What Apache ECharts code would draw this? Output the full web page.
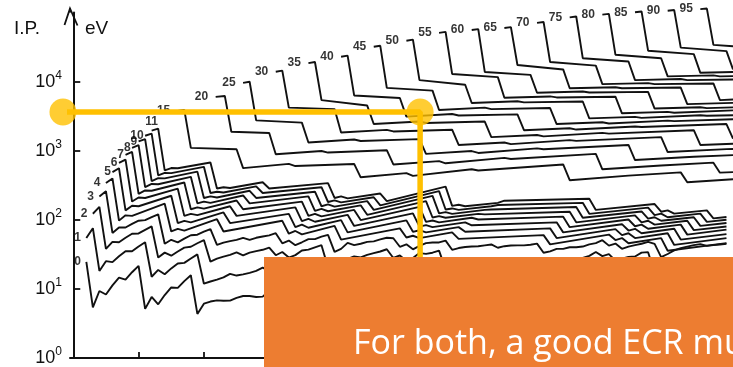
<!DOCTYPE html>
<html><head><meta charset="utf-8">
<script src="https://cdn.jsdelivr.net/npm/echarts@6/dist/echarts.min.js"></script>
<style>html,body{margin:0;padding:0;background:#fff}#c{width:733px;height:367px}</style>
</head><body><div id="c"></div>
<script>
// Charge states (line labels)
const CHARGES = [0,1,2,3,4,5,6,7,8,9,10,11,15,20,25,30,35,40,45,50,55,60,65,70,75,80,85,90,95];
// Y tick values (eV) and X tick values (Z)
const Y_TICKS = [1,10,100,1000,10000];
const X_TICKS = [10,20,30,40,50,60,70,80,90,100];

// Ionization potential [Z, eV] for each charge state
const IP_Q0 = [[2,24.59],[3,5.39],[4,9.32],[5,8.30],[6,11.26],[7,14.53],[8,13.62],[9,17.42],[10,21.56],[11,5.14],[12,7.65],[13,5.99],[14,8.15],[15,10.49],[16,10.36],[17,12.97],[18,15.76],[19,4.34],[20,6.11],[21,6.56],[22,6.83],[23,6.75],[24,6.77],[25,7.43],[26,7.90],[27,7.88],[28,7.64],[29,7.73],[30,9.39],[31,6.00],[32,7.90],[33,9.79],[34,9.75],[35,11.81],[36,14.00],[37,4.18],[38,5.69],[39,6.22],[40,6.63],[41,6.76],[42,7.09],[43,7.28],[44,7.36],[45,7.46],[46,8.34],[47,7.58],[48,8.99],[49,5.79],[50,7.34],[51,8.61],[52,9.01],[53,10.45],[54,12.13],[55,3.89],[56,5.21],[57,5.58],[58,5.54],[59,5.47],[60,5.53],[61,5.58],[62,5.64],[63,5.67],[64,6.15],[65,5.86],[66,5.94],[67,6.02],[68,6.11],[69,6.18],[70,6.25],[71,5.43],[72,6.83],[73,7.55],[74,7.86],[75,7.83],[76,8.44],[77,8.97],[78,8.96],[79,9.23],[80,10.44],[81,6.11],[82,7.42],[83,7.29],[84,8.41],[85,9.32],[86,10.75],[87,4.07],[88,5.28],[89,5.17],[90,6.31],[91,5.89],[92,6.19],[93,6.27],[94,6.03],[95,5.97],[96,5.99],[97,6.20],[98,6.28],[99,6.37],[100,6.50]];
const IP_Q1 = [[2,54.4],[3,75.6],[4,18.2],[5,25.2],[6,24.4],[7,29.6],[8,35.1],[9,35.0],[10,41.0],[11,47.3],[12,15.0],[13,18.8],[14,16.3],[15,19.8],[16,23.3],[17,23.8],[18,27.6],[19,31.6],[20,11.9],[21,12.8],[22,13.6],[23,14.7],[24,16.5],[25,15.6],[26,16.2],[27,17.1],[28,18.2],[29,20.3],[30,18.0],[31,20.5],[32,15.9],[33,18.6],[34,21.2],[35,21.6],[36,24.4],[37,27.3],[38,11.0],[39,12.2],[40,13.1],[41,14.3],[42,16.2],[43,15.3],[44,16.8],[45,18.1],[46,19.4],[47,21.5],[48,16.9],[49,18.9],[50,14.6],[51,16.5],[52,18.6],[53,19.1],[54,21.0],[55,23.2],[56,10.0],[57,11.1],[58,10.8],[59,10.6],[60,10.7],[61,10.9],[62,11.1],[63,11.2],[64,12.1],[65,11.5],[66,11.7],[67,11.8],[68,11.9],[69,12.1],[70,12.2],[71,13.9],[72,14.9],[73,16.2],[74,16.4],[75,16.6],[76,17.0],[77,17.0],[78,18.6],[79,20.5],[80,18.8],[81,20.4],[82,15.0],[83,16.7],[84,19.0],[85,17.9],[86,21.4],[87,22.4],[88,10.1],[89,11.8],[90,11.9],[91,11.9],[92,11.6],[93,11.5],[94,11.5],[95,12.0],[96,12.4],[97,12.3],[98,12.4],[99,12.5],[100,12.6]];
const IP_Q2 = [[3,122.4],[4,153.9],[5,37.9],[6,47.9],[7,47.4],[8,54.9],[9,62.7],[10,63.5],[11,71.6],[12,80.1],[13,28.4],[14,33.5],[15,30.2],[16,34.8],[17,39.6],[18,40.7],[19,45.8],[20,50.9],[21,24.8],[22,27.5],[23,29.3],[24,31.0],[25,33.7],[26,30.6],[27,33.5],[28,35.2],[29,36.8],[30,39.7],[31,30.7],[32,34.2],[33,28.4],[34,30.8],[35,36.0],[36,37.0],[37,40.0],[38,42.9],[39,20.5],[40,23.0],[41,25.0],[42,27.1],[43,29.5],[44,28.5],[45,31.1],[46,32.9],[47,34.8],[48,37.5],[49,28.0],[50,30.5],[51,25.3],[52,28.0],[53,33.0],[54,32.1],[55,33.4],[56,35.8],[57,19.2],[58,20.2],[59,21.6],[60,22.1],[61,22.3],[62,23.4],[63,24.9],[64,20.6],[65,21.9],[66,22.8],[67,22.8],[68,22.7],[69,23.7],[70,25.1],[71,21.0],[72,23.3],[73,22.0],[74,24.0],[75,26.0],[76,25.0],[77,27.0],[78,28.0],[79,30.0],[80,34.2],[81,29.8],[82,31.9],[83,25.6],[84,27.3],[85,29.0],[86,29.4],[87,33.5],[88,34.0],[89,17.4],[90,18.3],[91,19.0],[92,19.8],[93,20.0],[94,21.0],[95,21.8],[96,20.1],[97,21.6],[98,22.3],[99,22.7],[100,23.0]];
const IP_Q3 = [[4,217.7],[5,259.4],[6,64.5],[7,77.5],[8,77.4],[9,87.1],[10,97.1],[11,98.9],[12,109.2],[13,120],[14,45.1],[15,51.4],[16,47.2],[17,53.5],[18,59.8],[19,60.9],[20,67.3],[21,73.5],[22,43.3],[23,46.7],[24,49.2],[25,51.2],[26,54.9],[27,51.3],[28,54.9],[29,57.4],[30,59.4],[31,64],[32,45.7],[33,50.1],[34,42.9],[35,47.3],[36,52.5],[37,52.6],[38,57],[39,60.6],[40,34.3],[41,38],[42,46.4],[43,43],[44,45],[45,48],[46,48.8],[47,52],[48,55],[49,54],[50,40.7],[51,44.2],[52,37.4],[53,42],[54,46],[55,47],[56,47],[57,50],[58,36.8],[59,39],[60,40.4],[61,41.1],[62,41.4],[63,42.7],[64,44],[65,39.4],[66,41.5],[67,42.5],[68,42.7],[69,42.7],[70,43.6],[71,45.2],[72,33.3],[73,35],[74,38],[75,38],[76,40],[77,40],[78,41],[79,44],[80,46],[81,50.7],[82,42.3],[83,45.3],[84,38],[85,41],[86,43],[87,45],[88,48],[89,44.8],[90,28.8],[91,32],[92,36],[93,39],[94,41],[95,43],[96,44.5],[97,42],[98,43],[99,44],[100,45]];
const IP_Q4 = [[5,340],[6,397],[7,97.3],[8,116],[9,114],[14,171],[15,67.8],[16,74],[17,69.9],[22,102],[23,67.8],[32,96.7],[33,62.9],[34,68.9],[35,61.4],[40,81.6],[41,51.7],[50,75.1],[51,55.5],[52,58.8],[53,54.4],[58,65.8],[59,53],[72,60],[73,44.1],[82,61.1],[83,50.9],[84,54.4],[85,45.7],[90,54.4],[91,35.6],[100,46]];
const IP_Q5 = [[6,490],[7,557],[8,137],[9,160],[10,157],[15,223],[16,89.6],[17,96.7],[18,91.9],[23,128],[24,89.6],[33,122],[34,78.3],[35,85],[36,76.7],[41,99.1],[42,65.8],[51,98.2],[52,67],[53,70.7],[54,65.8],[59,78.3],[60,67.3],[73,75.1],[74,54.4],[83,73.2],[84,60],[85,63.9],[86,54.4],[91,63.9],[92,43.3],[100,54.4]];
const IP_Q6 = [[7,666],[8,745],[9,184],[10,210],[11,207],[16,282],[17,114],[18,122],[19,117],[24,157],[25,114],[34,151],[35,95.5],[36,103],[37,93.7],[42,118],[43,81.6],[52,124],[53,79.6],[54,83.6],[55,78.3],[60,91.9],[61,83.3],[74,91.9],[75,65.8],[84,86.4],[85,69.9],[86,74.1],[87,63.9],[92,74.1],[93,51.7],[100,62]];
const IP_Q7 = [[8,870],[9,960],[10,237],[11,266],[12,263],[17,347],[18,142],[19,151],[20,145],[25,190],[26,142],[35,183],[36,114],[37,122],[38,112],[43,139],[44,99.1],[53,154],[54,93.4],[55,97.7],[56,91.9],[61,107],[62,101],[75,111],[76,78.3],[85,101],[86,80.6],[87,85.1],[88,74.1],[93,85.1],[94,61],[100,72]];
const IP_Q8 = [[9,1102],[10,1202],[11,297],[12,330],[13,327],[18,419],[19,173],[20,183],[21,176],[26,225],[27,173],[36,218],[37,135],[38,144],[39,133],[44,162],[45,118],[54,186],[55,108],[56,113],[57,107],[62,122],[63,120],[76,131],[77,91.9],[86,116],[87,92],[88,96.8],[89,85.1],[94,96.8],[95,70.9],[100,80]];
const IP_Q9 = [[10,1360],[11,1471],[12,364],[13,400],[14,397],[19,498],[20,207],[21,218],[22,210],[27,263],[28,207],[37,255],[38,157],[39,167],[40,155],[45,186],[46,139],[55,222],[56,124],[57,129],[58,122],[63,139],[64,141],[77,153],[78,107],[87,132],[88,104],[89,109],[90,96.8],[95,109],[96,81.7],[100,90]];
const IP_Q10 = [[11,1646],[12,1768],[13,438],[14,477],[15,473],[20,584],[21,244],[22,255],[23,248],[28,305],[29,244],[38,296],[39,181],[40,191],[41,179],[46,212],[47,162],[56,260],[57,141],[58,146],[59,139],[64,157],[65,164],[78,176],[79,122],[88,150],[89,117],[90,123],[91,109],[96,123],[97,93.2],[100,100]];
const IP_Q11 = [[12,1958],[13,2091],[14,519],[15,561],[16,557],[21,676],[22,284],[23,296],[24,288],[29,349],[30,284],[39,340],[40,207],[41,218],[42,204],[47,240],[48,186],[57,302],[58,159],[59,165],[60,157],[65,176],[66,189],[79,202],[80,139],[89,169],[90,131],[91,137],[92,123],[97,137],[98,105],[100,110]];
const IP_Q15 = [[16,3750],[17,3900],[18,1100],[25,1050],[26,560],[33,645],[34,600],[43,643],[44,412],[51,473],[52,432],[61,539],[62,516],[75,632],[76,374],[85,436],[93,486],[94,350],[101,387]];
const IP_Q20 = [[21.8,6000],[23.2,6200],[24.2,1880],[30,1800],[31,887],[38,990],[39,940],[48,1016],[49,632],[56,707],[57,657],[66,786],[67,759],[80,899],[81,538],[90,612],[98,671],[99,481],[101,490]];
const IP_Q25 = [[26,9600],[27,9950],[28,2750],[35,2550],[36,1317],[43,1450],[44,1380],[53,1472],[54,899],[61,988],[62,928],[71,1081],[72,1049],[85,1212],[86,733],[95,819],[101,864]];
const IP_Q30 = [[31,13900],[32,14400],[33,4200],[40,4000],[41,1831],[48,2000],[49,1900],[58,2014],[59,1212],[66,1315],[67,1246],[76,1422],[77,1386],[90,1572],[91,957],[100,1055],[101,1060]];
const IP_Q35 = [[36,18500],[37,19200],[38,5400],[45,4500],[46,2430],[53,2650],[54,2520],[63,2640],[64,1572],[71,1689],[72,1610],[81,1810],[82,1769],[95,1978],[96,1211],[101,1260]];
const IP_Q40 = [[41,22900],[42,23800],[43,6300],[50,5800],[51,3114],[58,3400],[59,3230],[68,3351],[69,1978],[76,2110],[77,2022],[86,2245],[87,2199],[100,2432],[101,1495]];
const IP_Q45 = [[46,32000],[47,33000],[48,8100],[55,7400],[56,3882],[63,4200],[64,4000],[73,4146],[74,2432],[81,2577],[82,2480],[91,2726],[92,2676],[101,2850]];
const IP_Q50 = [[51,39000],[52,40500],[53,10500],[60,9000],[61,4900],[68,5200],[69,5000],[78,5150],[79,2932],[86,3091],[87,2985],[96,3255],[97,3200],[101,3260]];
const IP_Q55 = [[56,50800],[57,52500],[58,12900],[65,11600],[66,5850],[73,6100],[74,5900],[83,6050],[84,3479],[91,3652],[92,3536],[101,3830]];
const IP_Q60 = [[61,55800],[62,57500],[63,13800],[70,12500],[71,6900],[78,7200],[79,6950],[88,7100],[89,4073],[96,4260],[97,4135],[101,4230]];
const IP_Q65 = [[66,59700],[67,61500],[68,17400],[75,15000],[76,8000],[83,8300],[84,8000],[93,8200],[94,4713],[101,4915]];
const IP_Q70 = [[71,70800],[72,73000],[73,19200],[80,17000],[81,9200],[88,9500],[89,9200],[98,9400],[99,5400],[101,5500]];
const IP_Q75 = [[76,85000],[77,87500],[78,21800],[85,19500],[86,10500],[93,10900],[94,10500],[101,10700]];
const IP_Q80 = [[81,93000],[82,95500],[83,24500],[90,21800],[91,11900],[98,12300],[99,11900],[101,12000]];
const IP_Q85 = [[86,101000],[87,103500],[88,28000],[95,25000],[96,13400],[101,13800]];
const IP_Q90 = [[91,106000],[92,108500],[93,31000],[100,27600],[101,15000]];
const IP_Q95 = [[96,112000],[97,114000],[98,34000],[101,32500]];

// Highlight overlay (Z, eV)
const HIGHLIGHT_PATH = [[-1.58,3631],[53.1,3631],[53.1,20]];
const HIGHLIGHT_DOTS = [[-1.58,3631],[53.1,3631]];

const LINE_DATA = [IP_Q0,IP_Q1,IP_Q2,IP_Q3,IP_Q4,IP_Q5,IP_Q6,IP_Q7,IP_Q8,IP_Q9,IP_Q10,IP_Q11,IP_Q15,IP_Q20,IP_Q25,IP_Q30,IP_Q35,IP_Q40,IP_Q45,IP_Q50,IP_Q55,IP_Q60,IP_Q65,IP_Q70,IP_Q75,IP_Q80,IP_Q85,IP_Q90,IP_Q95];

function labelFor(q){
  const base = {formatter: String(q)};
  if (q <= 4) return Object.assign(base,{position:'left',distance:5,offset:[0,-1]});
  if (q <= 9) return Object.assign(base,{position:'left',distance:1,offset:[0,-2]});
  if (q === 10) return Object.assign(base,{position:'left',distance:1,offset:[0,-6]});
  if (q === 11) return Object.assign(base,{position:'top',distance:2,offset:[4,-1]});
  return Object.assign(base,{position:'left',distance:7,offset:[0,-1]});
}

const chart = echarts.init(document.getElementById('c'));
const GRID = {left:70, right:0, top:12.5, bottom:9};

const series = CHARGES.map((q,i)=>({
  type:'line', data: LINE_DATA[i], symbol:'none', silent:true, animation:false, z:2, clip:false,
  lineStyle:{color:'#111', width:1.9}
}));
series.push({
  type:'scatter', silent:true, animation:false, z:3, symbolSize:1, clip:false,
  itemStyle:{color:'rgba(0,0,0,0)'},
  label:{show:true, color:'#000', fontSize:12, fontWeight:'bold', fontFamily:'Liberation Sans'},
  labelLayout:{hideOverlap:false},
  data: CHARGES.map((q,i)=>({value: LINE_DATA[i][0], label: labelFor(q)}))
});
series.push({
  type:'line', data: HIGHLIGHT_PATH, symbol:'none', clip:false, silent:true, animation:false, z:6,
  lineStyle:{color:'#FFC000', width:5.5}
});
series.push({
  type:'scatter', data: HIGHLIGHT_DOTS, symbolSize:27, clip:false, silent:true, animation:false, z:7,
  itemStyle:{color:'#FFC000'}
});

chart.setOption({
  animation:false,
  backgroundColor:'#ffffff',
  textStyle:{fontFamily:'Liberation Sans'},
  grid: Object.assign({containLabel:false, outerBoundsMode:'none'}, GRID),
  xAxis:{
    type:'value', min:-0.5, max:101,
    axisLine:{show:true, lineStyle:{color:'#111', width:2}},
    axisTick:{show:true, inside:true, length:6, customValues:X_TICKS, lineStyle:{color:'#111', width:1.8}},
    axisLabel:{show:false}, splitLine:{show:false}
  },
  yAxis:{
    type:'log', logBase:10, min:1, max:100000,
    axisLine:{show:true, lineStyle:{color:'#111', width:2}},
    axisTick:{show:true, inside:true, length:7, customValues:Y_TICKS, lineStyle:{color:'#111', width:1.8}},
    axisLabel:{
      show:true, margin:8, customValues:Y_TICKS,
      formatter: v => { const e = Math.round(Math.log10(v)); return e > 4 ? '' : '{b|10}{s|' + e + '}'; },
      rich:{
        b:{fontSize:18, fontFamily:'Liberation Sans', color:'#111', lineHeight:24},
        s:{fontSize:12, fontFamily:'Liberation Sans', color:'#111', verticalAlign:'top', lineHeight:12}
      }
    },
    splitLine:{show:false}
  },
  graphic:{elements:[
    {type:'text', x:14, y:29, z:10, style:{text:'I.P.', font:'19px "Liberation Sans"', fill:'#111', verticalAlign:'middle'}},
    {type:'text', x:85, y:29, z:10, style:{text:'eV', font:'19px "Liberation Sans"', fill:'#111', verticalAlign:'middle'}},
    {type:'polyline', z:10, shape:{points:[[GRID.left,GRID.top],[GRID.left,8.5]]}, style:{stroke:'#111', lineWidth:2, fill:null}},
    {type:'polyline', z:10, shape:{points:[[64.5,25],[GRID.left,8.5],[77.5,25.5]]}, style:{stroke:'#111', lineWidth:1.8, fill:null}},
    {type:'rect', z:100, shape:{x:264, y:257, width:469, height:110}, style:{fill:'#ED7D31'}},
    {type:'text', x:353, y:344, z:101, style:{text:'For both, a good ECR mu', font:'34px "Open Sans"', fill:'#ffffff', verticalAlign:'middle'}}
  ]},
  series: series
});
</script></body></html>
